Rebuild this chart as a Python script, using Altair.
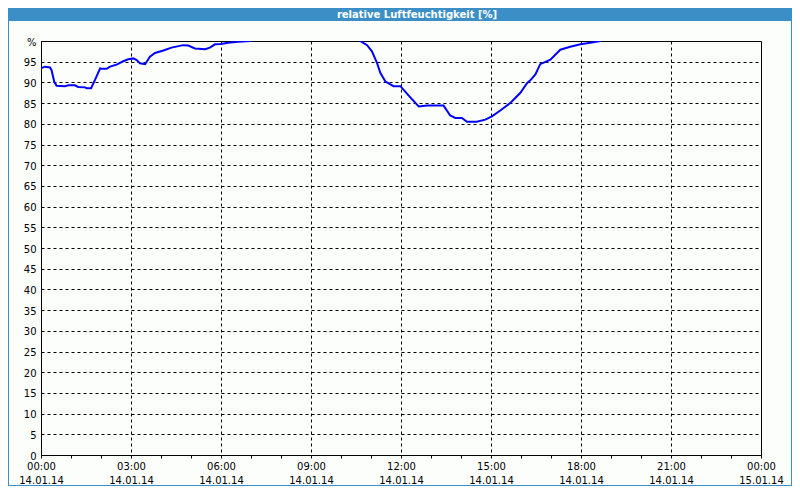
import altair as alt
import pandas as pd

# ---- data ----
hours = [0.00, 0.13, 0.30, 0.35, 0.44, 0.52, 0.80, 0.91, 1.13, 1.24, 1.47, 1.52, 1.67,
         1.80, 1.97, 2.02, 2.19, 2.30, 2.52, 2.74, 2.91, 3.08, 3.19, 3.30, 3.47, 3.63,
         3.80, 4.08, 4.35, 4.74, 4.91, 5.13, 5.47, 5.63, 5.80, 6.00, 6.24, 6.58, 6.97,
         7.20, 10.40, 10.64, 10.87, 11.03, 11.20, 11.31, 11.48, 11.75, 11.98, 12.31,
         12.59, 12.87, 13.42, 13.64, 13.81, 14.03, 14.20, 14.53, 14.81, 15.03, 15.31,
         15.64, 15.75, 15.98, 16.20, 16.31, 16.48, 16.64, 16.98, 17.31, 17.64, 17.98,
         18.31, 18.64, 18.90, 24.00]
humidity = [93.4, 93.8, 93.6, 93.0, 90.2, 89.2, 89.1, 89.3, 89.3, 88.9, 88.8, 88.6, 88.6,
            90.6, 93.4, 93.3, 93.3, 93.8, 94.3, 95.1, 95.6, 95.8, 95.4, 94.6, 94.4, 96.2,
            97.1, 97.7, 98.4, 99.0, 98.9, 98.2, 98.0, 98.4, 99.2, 99.3, 99.6, 99.8, 100.0,
            102.0, 102.0, 100.0, 99.0, 97.5, 94.7, 92.3, 90.2, 89.1, 89.1, 86.4,
            84.2, 84.4, 84.4, 82.0, 81.4, 81.4, 80.5, 80.5, 81.0, 81.8, 83.2,
            85.0, 85.8, 87.5, 89.8, 90.5, 91.9, 94.4, 95.5, 97.9, 98.6, 99.2,
            99.6, 100.0, 102.0, 102.0]

tick_times = ["00:00", "03:00", "06:00", "09:00", "12:00", "15:00", "18:00", "21:00", "00:00"]
tick_dates = ["14.01.14", "14.01.14", "14.01.14", "14.01.14", "14.01.14",
              "14.01.14", "14.01.14", "14.01.14", "15.01.14"]
x_tick_values = list(range(0, 25))
y_tick_values = list(range(0, 101, 5))
title_text = "relative Luftfeuchtigkeit [%]"

df = pd.DataFrame({"h": hours, "rh": humidity})
one = pd.DataFrame({"a": [0]})

times_js = "[" + ",".join(f"'{t}'" for t in tick_times) + "]"
dates_js = "[" + ",".join(f"'{d}'" for d in tick_dates) + "]"
x_label_expr = (f"datum.value % 3 == 0 ? [{times_js}[datum.value / 3], "
                f"{dates_js}[datum.value / 3]] : ''")

FONT = "DejaVu Sans"
FRAME = "#3c8fc6"

W, H = 720, 414
PAD_L, PAD_T, PAD_R, PAD_B = 33, 33, 31, 31
TOTAL_W = PAD_L + W + PAD_R
TOTAL_H = PAD_T + H + PAD_B

x_enc = alt.X(
    "h:Q",
    scale=alt.Scale(domain=[0, 24], nice=False, zero=False),
    axis=alt.Axis(
        values=x_tick_values, labelExpr=x_label_expr, labelOverlap=False,
        labelFlush=False, labelFont=FONT, labelFontSize=10, labelColor="black",
        labelLineHeight=14, labelPadding=3, tickSize=3, tickColor="black",
        domainColor="black", grid=True, gridColor="black", gridDash=[3, 3],
        gridOpacity={"condition": {"test": "datum.value % 3 != 0 || datum.value == 0 || datum.value == 24",
                                   "value": 0}, "value": 1},
        title=None,
    ),
)
y_enc = alt.Y(
    "rh:Q",
    scale=alt.Scale(domain=[0, 100], nice=False),
    axis=alt.Axis(
        values=y_tick_values, labelExpr="datum.value == 100 ? '%' : datum.label",
        ticks=False, labelPadding=5, labelFont=FONT, labelFontSize=10,
        labelColor="black", labelOffset=1, domainColor="black",
        grid=True, gridColor="black", gridDash=[3, 3],
        gridOpacity={"condition": {"test": "datum.value == 0 || datum.value == 100",
                                   "value": 0}, "value": 1},
        title=None,
    ),
)

line = alt.Chart(df).mark_line(color="#0000ff", strokeWidth=2, clip=True).encode(x=x_enc, y=y_enc)

bar = alt.Chart(one).mark_rect(color=FRAME).encode(
    x=alt.value(-PAD_L), x2=alt.value(W + PAD_R), y=alt.value(-PAD_T), y2=alt.value(-20))
title = alt.Chart(one).mark_text(
    text=title_text, font=FONT, fontWeight="bold", fontSize=10, color="white",
    align="center", baseline="middle").encode(x=alt.value(376), y=alt.value(-26.5))
right = alt.Chart(one).mark_rule(color=FRAME, strokeWidth=1).encode(
    x=alt.value(W + PAD_R - 0.5), y=alt.value(-PAD_T), y2=alt.value(H + PAD_B))
bottom = alt.Chart(one).mark_rule(color=FRAME, strokeWidth=1).encode(
    x=alt.value(-PAD_L), x2=alt.value(W + PAD_R), y=alt.value(H + PAD_B - 0.5))
left = alt.Chart(one).mark_rule(color=FRAME, strokeWidth=1).encode(
    x=alt.value(-PAD_L + 0.5), y=alt.value(-PAD_T), y2=alt.value(H + PAD_B))

chart = (
    alt.layer(line, bar, title, right, bottom, left)
    .properties(width=W, height=H,
                padding={"left": PAD_L, "top": PAD_T, "right": PAD_R, "bottom": PAD_B},
                autosize=alt.AutoSizeParams(type="none"),
                background="#fcfefc")
    .configure_view(stroke="black", strokeWidth=1)
)

chart.save("out.html", embed_options={"renderer": "svg", "actions": False})
